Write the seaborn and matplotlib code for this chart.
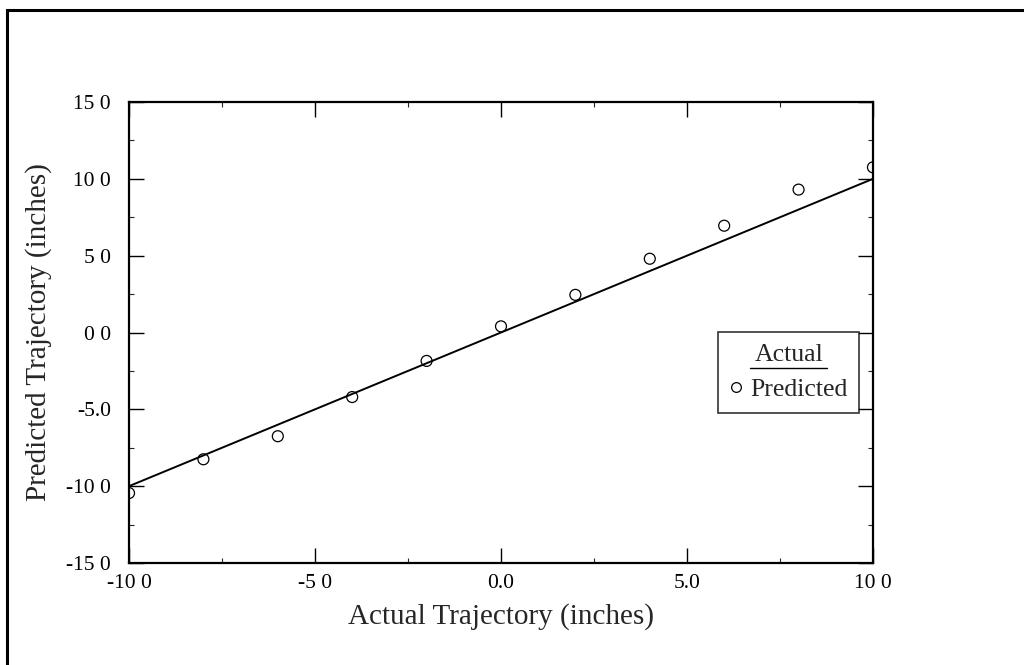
import matplotlib
matplotlib.use("Agg")
import matplotlib.pyplot as plt
import seaborn as sns
import pandas as pd
from matplotlib.lines import Line2D
from matplotlib.patches import Rectangle
from matplotlib.ticker import MultipleLocator

# Values
actual = [-10, -8, -6, -4, -2, 0, 2, 4, 6, 8, 10]
predicted = [-10.45, -8.25, -6.75, -4.2, -1.85, 0.4, 2.45, 4.8, 6.95, 9.3, 10.75]
x_ticks = [-10, -5, 0, 5, 10]
x_tick_labels = ["-10 0", "-5 0", "0.0", "5.0", "10 0"]
y_ticks = [-15, -10, -5, 0, 5, 10, 15]
y_tick_labels = ["-15 0", "-10 0", "-5.0", "0 0", "5 0", "10 0", "15 0"]

df = pd.DataFrame({"actual": actual, "predicted": predicted})

sns.set_style("ticks")
plt.rcParams["font.family"] = ["Liberation Serif", "DejaVu Serif"]

fig = plt.figure(figsize=(10.24, 6.65), dpi=100)
ax = fig.add_axes([0.126, 0.1534, 0.7265, 0.6932])

# Actual line (y = x)
sns.lineplot(data=df, x="actual", y="actual", ax=ax, color="black", linewidth=1.4)
# Predicted points
sns.scatterplot(data=df, x="actual", y="predicted", ax=ax, s=62,
                facecolor="none", edgecolor="black", linewidth=0.9, zorder=3)

ax.set_xlim(-10, 10)
ax.set_ylim(-15, 15)
ax.set_xticks(x_ticks)
ax.set_xticklabels(x_tick_labels)
ax.set_yticks(y_ticks)
ax.set_yticklabels(y_tick_labels)
ax.xaxis.set_minor_locator(MultipleLocator(2.5))
ax.yaxis.set_minor_locator(MultipleLocator(2.5))
ax.tick_params(which="major", direction="in", length=11, width=1.0,
               top=True, right=True, labelsize=15.5, colors="black")
ax.tick_params(axis="x", which="major", pad=8)
ax.tick_params(axis="y", which="major", pad=13)
ax.tick_params(which="minor", direction="in", length=3.5, width=0.8,
               top=True, right=True)
for sp in ax.spines.values():
    sp.set_visible(True)
    sp.set_linewidth(1.6)
    sp.set_color("black")

ax.set_xlabel("Actual Trajectory (inches)", fontsize=21, labelpad=7)
ax.set_ylabel("Predicted Trajectory (inches)", fontsize=21, labelpad=10)

# Legend
handles = [Line2D([], [], marker="o", linestyle="none", markersize=7,
                  markerfacecolor="none", markeredgecolor="black", markeredgewidth=0.9)]
leg = ax.legend(handles, ["Predicted"], title="Actual", loc="upper left",
                bbox_to_anchor=(0.792, 0.501), fontsize=18.5, title_fontsize=18.5,
                frameon=True, fancybox=False, handlelength=0.5, handletextpad=0.3,
                borderpad=0.45, borderaxespad=0, labelspacing=0.3)
leg._legend_box.sep = 9
leg.get_frame().set_edgecolor("black")
leg.get_frame().set_linewidth(1.2)

fig.canvas.draw()
tb = leg.get_title().get_window_extent()
inv = fig.transFigure.inverted()
(x0, y0), (x1, y1) = inv.transform([(tb.x0, tb.y0), (tb.x1, tb.y1)])
fig.add_artist(Line2D([x0 - 0.004, x1 + 0.004], [y0 - 0.004, y0 - 0.004],
                      color="black", linewidth=1.0, transform=fig.transFigure))

# Outer frame of the page
fig.add_artist(Rectangle((0.007, -0.05), 1.1, 1.035, transform=fig.transFigure,
                         fill=False, edgecolor="black", linewidth=2.2, clip_on=False))

fig.savefig("out.png", dpi=100)
